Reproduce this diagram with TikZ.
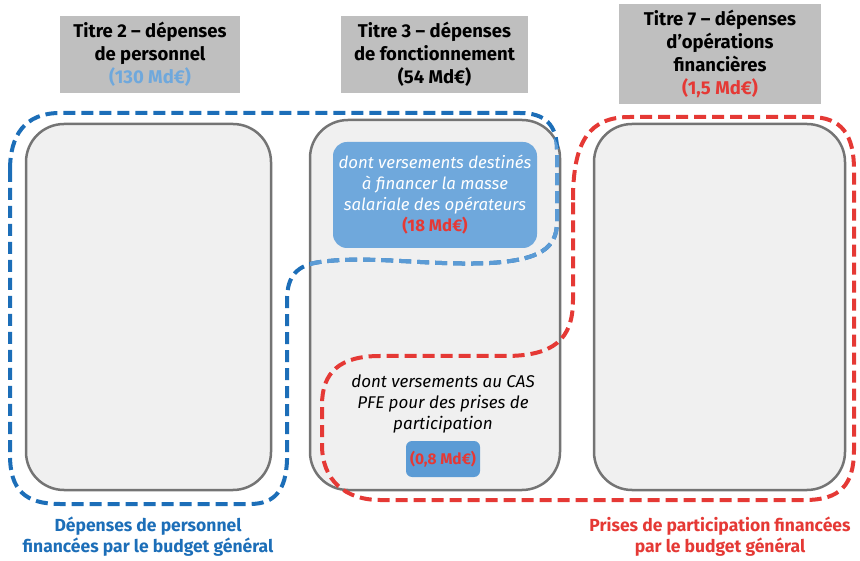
\documentclass[tikz,border=0pt]{standalone}
\usepackage{fontspec}
\setmainfont{Fira Sans}
\definecolor{hdrgray}{RGB}{191,191,191}
\definecolor{boxfill}{RGB}{240,240,240}
\definecolor{boxline}{RGB}{116,116,116}
\definecolor{dblue}{RGB}{28,110,184}
\definecolor{lblue}{RGB}{91,155,213}
\definecolor{bluefill}{RGB}{111,168,220}
\definecolor{smallfill}{RGB}{91,155,213}
\definecolor{myred}{RGB}{229,57,53}
\begin{document}
\begin{tikzpicture}[x=1pt,y=-1pt,
  hdr/.style={fill=hdrgray, inner sep=0pt, align=center, font=\fontsize{18.5}{23}\selectfont\bfseries},
  bigbox/.style={draw=boxline, fill=boxfill, line width=2.5pt, rounded corners=38pt, inner sep=0pt},
  dashline/.style={line width=4pt, dash pattern=on 12pt off 6pt},
  lbl/.style={align=center, font=\fontsize{17.5}{21}\selectfont\bfseries}
]
\useasboundingbox (0,0) rectangle (860,561);
% headers
\node[hdr, minimum width=180pt, minimum height=77pt] (h2) at (150,54.5) {Titre 2 – dépenses\\de personnel\\\textcolor{bluefill}{(130 Md€)}};
\node[hdr, minimum width=187pt, minimum height=77pt] (h3) at (434.5,54.5) {Titre 3 – dépenses\\de fonctionnement\\(54 Md€)};
\node[hdr, minimum width=202pt, minimum height=100pt] (h7) at (720,54) {Titre 7 – dépenses\\d’opérations\\financières\\\textcolor{myred}{(1,5 Md€)}};
% big boxes
\node[bigbox, minimum width=245pt, minimum height=366pt] (b2) at (148.5,307) {};
\node[bigbox, minimum width=250pt, minimum height=370pt] (b3) at (435,305) {};
\node[bigbox, minimum width=251pt, minimum height=366pt] (b7) at (719.5,307) {};
% inner boxes
\node[fill=bluefill, rounded corners=14pt, minimum width=204pt, minimum height=106pt, inner sep=0pt, align=center, text=white, font=\fontsize{16.8}{21}\selectfont\itshape] (ib) at (435,195)
 {dont versements destinés\\à financer la masse\\salariale des opérateurs\\\textcolor{myred}{\upshape\bfseries (18 Md€)}};
\node[align=center, font=\fontsize{17}{21}\selectfont\itshape] (cas) at (443,404) {dont versements au CAS\\PFE pour des prises de\\participation};
\node[fill=smallfill, rounded corners=6pt, minimum width=74pt, minimum height=36pt, inner sep=0pt, text=myred, font=\fontsize{15.5}{17}\selectfont\bfseries] (sb) at (443,459) {(0,8 Md€)};
% blue dashed contour
\def\bluepath{(10,170) -- (10,455) .. controls (10,490) and (25,504) .. (60,504) -- (250,504) .. controls (275,504) and (286,490) .. (287,460) -- (287,300) .. controls (287,275) and (298,265) .. (320,262) .. controls (370,255) and (430,266) .. (490,263) .. controls (540,260) and (557,248) .. (557,222) -- (557,150) .. controls (557,125) and (545,113) .. (520,113) -- (60,113) .. controls (25,113) and (10,135) .. (10,170) -- cycle}
\draw[dashline, dblue] \bluepath;
\begin{scope}
\clip[rounded corners=38pt] (310,120) rectangle (560,490);
\draw[dashline, lblue] \bluepath;
\end{scope}
% red dashed contour
\draw[dashline, myred] (573,200) .. controls (573,140) and (590,117) .. (630,117) -- (810,117) .. controls (842,117) and (854,135) .. (854,170) -- (854,450) .. controls (854,485) and (840,500) .. (805,500) -- (380,500) .. controls (345,500) and (322,480) .. (322,445) -- (322,405) .. controls (322,372) and (340,356) .. (380,356) -- (505,356) .. controls (553,356) and (573,340) .. (573,300) -- cycle;
% bottom labels
\node[lbl, text=dblue] (lb) at (148,537) {Dépenses de personnel\\financées par le budget général};
\node[lbl, text=myred] (lr) at (720,537) {Prises de participation financées\\par le budget général};
\end{tikzpicture}
\end{document}
